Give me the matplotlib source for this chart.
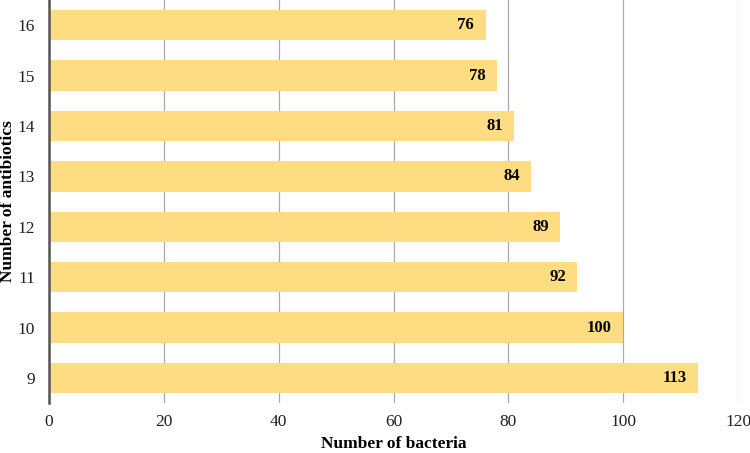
import numpy as np
import matplotlib.pyplot as plt

plt.rcParams['font.family'] = ['Liberation Serif', 'DejaVu Serif']

antibiotics = ['9', '10', '11', '12', '13', '14', '15', '16']
bacteria = [113, 100, 92, 89, 84, 81, 78, 76]

fig = plt.figure(figsize=(7.5, 4.53), dpi=100)
ax = fig.add_axes([0.0653, 0.110, 0.919, 0.890])

y = np.arange(len(antibiotics))
ax.barh(y, bacteria, height=0.6, color='#fedd82', zorder=2)

for yi, v in zip(y, bacteria):
    ax.text(v - 2, yi, str(v), ha='right', va='center',
            fontsize=12, fontweight='bold', color='black', zorder=3)

ax.set_xlim(0, 120)
ax.set_ylim(-0.5, 7.5)
ax.set_xticks([0, 20, 40, 60, 80, 100, 120])
ax.set_yticks(y)
ax.set_yticklabels(antibiotics)
ax.tick_params(axis='both', length=0, labelsize=12.5, colors='#222222')
ax.tick_params(axis='y', pad=10)
ax.tick_params(axis='x', pad=8)

ax.grid(axis='x', color='#a8a8a8', linewidth=0.9, zorder=0)
for s in ['top', 'right', 'bottom']:
    ax.spines[s].set_visible(False)
ax.spines['left'].set_color('#555555')
ax.spines['left'].set_linewidth(1.8)

ax.set_xlabel('Number of bacteria', fontsize=12.5, fontweight='bold', labelpad=4)
fig.text(8 / 750, 0.555, 'Number of antibiotics', rotation=90, ha='center', va='center',
         fontsize=12.5, fontweight='bold')

fig.savefig('out.png', dpi=100)
